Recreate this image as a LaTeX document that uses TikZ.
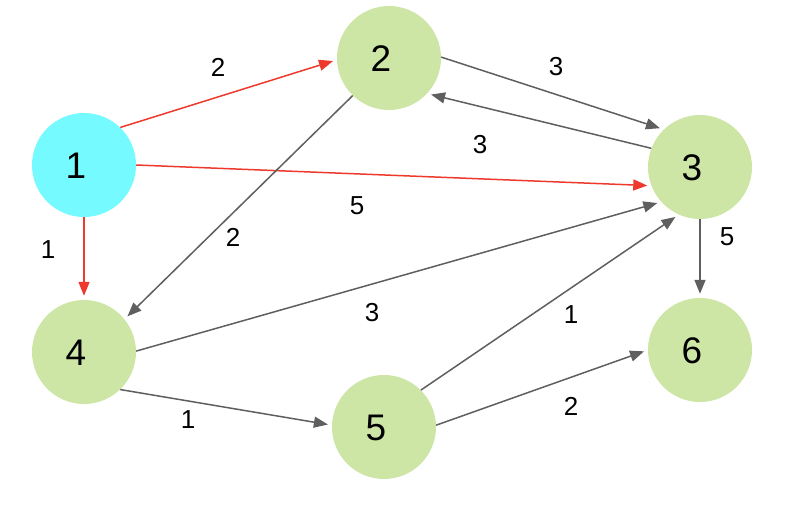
\documentclass[tikz,border=0pt]{standalone}
\usepackage{fontspec}
\setmainfont{Liberation Sans}
\usetikzlibrary{arrows.meta}
\definecolor{nodecyan}{HTML}{75FAFF}
\definecolor{nodegreen}{HTML}{CDE6A6}
\definecolor{edgered}{HTML}{EE3A2C}
\definecolor{edgegray}{HTML}{5F5F5F}
\tikzset{
  vlabel/.style={font=\fontsize{37}{37}\selectfont,inner sep=0pt,xshift=-8pt,yshift=-1pt},
  vertex/.style={circle,minimum size=104pt,inner sep=0pt,fill=nodegreen,label={[vlabel]center:#1}},
  start/.style={vertex=#1,fill=nodecyan},
  edge/.style={line width=1.5pt,-{Triangle[length=14pt,width=11pt]},shorten >=4pt,draw=edgegray},
  redge/.style={edge,draw=edgered,fill=edgered},
  gedge/.style={edge,fill=edgegray},
  wlabel/.style={font=\fontsize{26}{26}\selectfont,inner sep=1pt}
}
\begin{document}
\begin{tikzpicture}[x=1pt,y=-1pt]
\useasboundingbox (0,0) rectangle (788,506);
\node[start=1]  (n1) at (84,165) {};
\node[vertex=2] (n2) at (389,58) {};
\node[vertex=3] (n3) at (700,167) {};
\node[vertex=4] (n4) at (84,352) {};
\node[vertex=5] (n5) at (384,427) {};
\node[vertex=6] (n6) at (700,350) {};
\draw[redge] (n1.46) -- (n2.182);
\draw[redge] (n1.0) -- (n3.201);
\draw[redge] (n1.270) -- (n4.90);
\draw[gedge] (n2.1) -- (n3.134);
\draw[gedge] (n3.159) -- (n2.-43);
\draw[gedge] (n2.226) -- (n4.39);
\draw[gedge] (n4.1) -- (n3.222);
\draw[gedge] (n5.45) -- (n3.246);
\draw[gedge] (n4.-46) -- (n5.178);
\draw[gedge] (n5.2) -- (n6.180);
\draw[gedge] (n3.270) -- (n6.90);
\node[wlabel] (l12) at (218,67) {2};
\node[wlabel] (l13) at (357,206) {5};
\node[wlabel] (l14) at (48,250) {1};
\node[wlabel] (l23) at (556,67) {3};
\node[wlabel] (l32) at (480,145) {3};
\node[wlabel] (l24) at (233,237) {2};
\node[wlabel] (l43) at (372,313) {3};
\node[wlabel] (l45) at (188,420) {1};
\node[wlabel] (l53) at (571,315) {1};
\node[wlabel] (l56) at (571,406) {2};
\node[wlabel] (l36) at (727,237) {5};
\end{tikzpicture}
\end{document}
